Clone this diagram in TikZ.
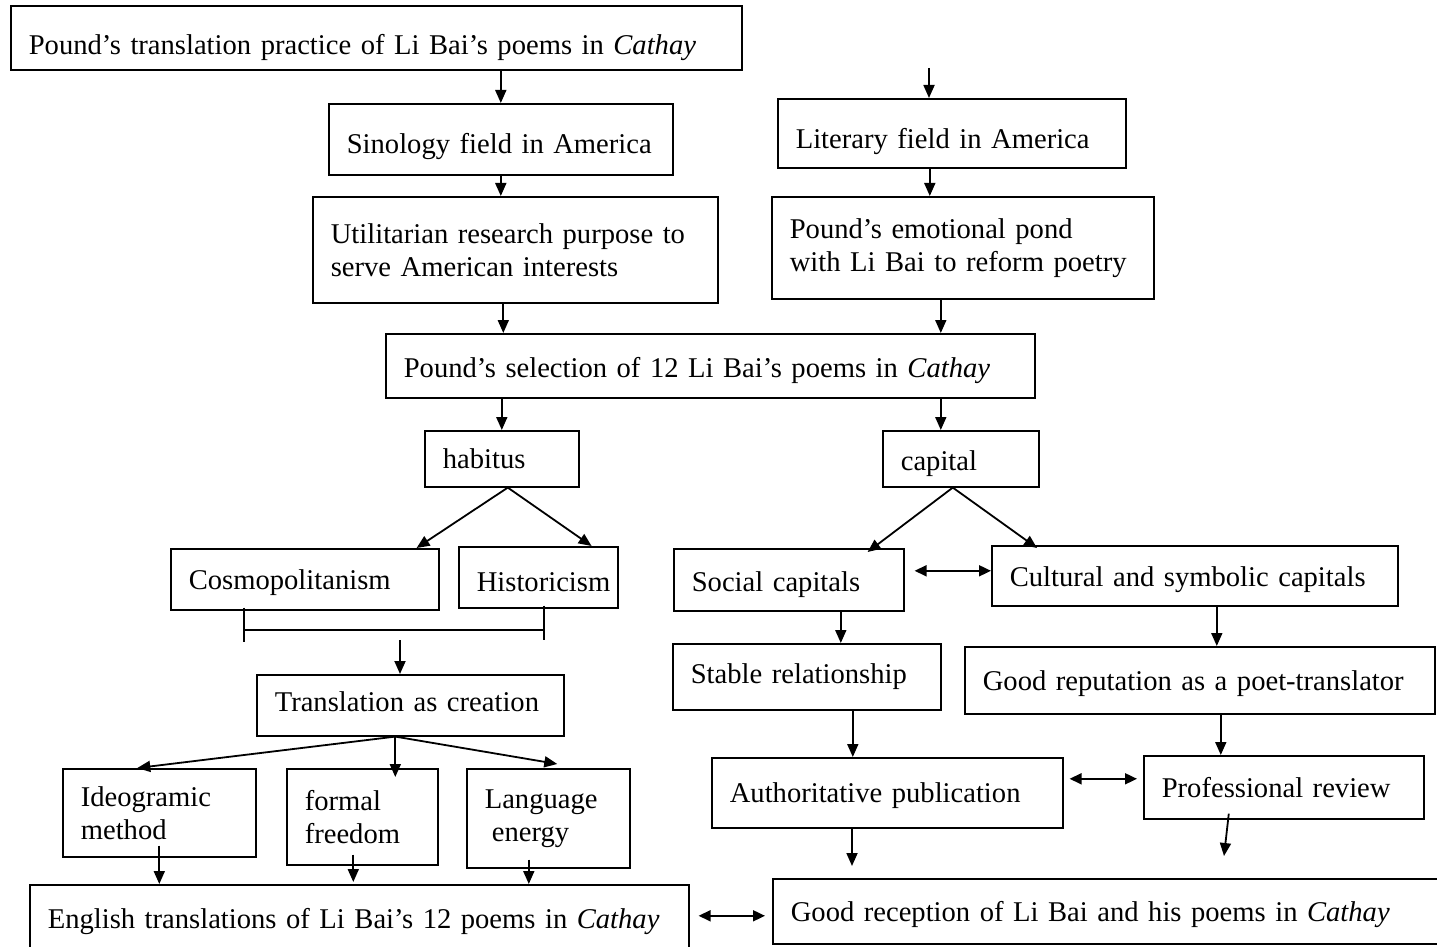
\documentclass[tikz,border=0pt]{standalone}
\usepackage{fontspec}
\setmainfont{Liberation Serif}
\usepackage{tikz}
\usetikzlibrary{positioning}
\usetikzlibrary{arrows.meta}
\usetikzlibrary{calc}

\begin{document}
\begin{tikzpicture}[x=0.5pt,y=-0.5pt,
  dn/.style={text depth=3.2pt, text height=#1},
  up/.style={text height=9.8pt, text depth=#1}]
\tikzstyle{box}=[draw, line width=0.8pt, anchor=north west, align=left, inner xsep=9pt, inner ysep=0pt, font=\fontsize{14.3}{16.5}\selectfont]
\tikzstyle{arr}=[line width=0.9pt, -{Triangle[length=6.5pt,width=5.5pt]}]
\tikzstyle{darr}=[line width=0.9pt, {Triangle[length=6pt,width=5.5pt]}-{Triangle[length=6pt,width=5.5pt]}]
\useasboundingbox (0,0) rectangle (1437,947);

% fields
\node[box, dn=19.8pt, text width=347.5pt, minimum height=32pt] (top) at (10,5) {Pound’s translation practice of Li Bai’s poems in \textit{Cathay}};
\node[box, dn=17.8pt, text width=154pt, minimum height=35.5pt] (sino) at (328,103) {Sinology field in America};
\node[box, dn=18.8pt, text width=156pt, minimum height=34.5pt] (lit) at (777,98) {Literary field in America};
\node[box, text width=184.5pt, minimum height=53pt] (util) at (312,196) {Utilitarian research purpose to\\serve American interests};
\node[box, text width=173pt, minimum height=51pt] (emot) at (771,196) {Pound’s emotional pond\\with Li Bai to reform poetry};
\node[box, dn=14.8pt, text width=306.5pt, minimum height=32pt] (sel) at (385,333) {Pound’s selection of 12 Li Bai’s poems in \textit{Cathay}};

% habitus side
\node[box, text width=59pt, minimum height=28pt] (hab) at (424,430) {habitus};
\node[box, dn=13.8pt, text width=116pt, minimum height=30.5pt] (cosmo) at (170,548) {Cosmopolitanism};
\node[box, dn=17pt, text width=61.5pt, minimum height=30.5pt] (hist) at (458,546) {Historicism};
\node[box, up=3.5pt, text width=135.5pt, minimum height=30.5pt] (trans) at (256,674) {Translation as creation};
\node[box, text width=78.5pt, minimum height=44pt] (ideo) at (62,768) {Ideogramic\\method};
\node[box, text width=57.5pt, minimum height=48pt] (formal) at (286,768) {formal\\freedom};
\node[box, text width=63.5pt, minimum height=49.5pt] (lang) at (466,768) {Language\\\hspace*{3.5pt}energy};
\node[box, dn=13.8pt, text width=311.5pt, minimum height=33pt] (eng) at (29,884) {English translations of Li Bai’s 12 poems in \textit{Cathay}};

% capital side
\node[box, dn=14.8pt, text width=60pt, minimum height=28pt] (cap) at (882,430) {capital};
\node[box, dn=14.8pt, text width=97pt, minimum height=31pt] (social) at (673,548) {Social capitals};
\node[box, dn=13.8pt, text width=185pt, minimum height=30pt] (cult) at (991,545) {Cultural and symbolic capitals};
\node[box, text width=116pt, minimum height=33pt] (stable) at (672,643) {Stable relationship};
\node[box, dn=13.8pt, text width=217pt, minimum height=33.5pt] (rep) at (964,646) {Good reputation as a poet-translator};
\node[box, dn=12.8pt, text width=157.5pt, minimum height=35pt] (auth) at (711,757) {Authoritative publication};
\node[box, text width=122pt, minimum height=31.5pt] (prof) at (1143,755) {Professional review};
\node[box, dn=13.8pt, text width=314.5pt, minimum height=32.5pt] (recep) at (772,878) {Good reception of Li Bai and his poems in \textit{Cathay}};

% arrows down the middle
\draw[arr] (top.south -| sino.north) -- (sino.north);
\coordinate (litin) at (929,68);
\draw[arr] (litin) -- (litin |- lit.north);
\draw[arr] (sino.south) -- (sino.south |- util.north);
\draw[arr] ($(lit.south)+(-22,0)$) coordinate (l1) -- (l1 |- emot.north);
\draw[arr] ($(util.south)+(-12,0)$) coordinate (u1) -- (u1 |- sel.north);
\draw[arr] ($(emot.south)+(-22,0)$) coordinate (e1) -- (e1 |- sel.north);
\draw[arr] (sel.south -| hab.north) -- (hab.north);
\draw[arr] ($(cap.north)+(-20,0)$) coordinate (c1) ++(0,-33) -- (c1);

% habitus branch
\draw[arr] ($(hab.south)+(6,0)$) coordinate (h1) -- ($(cosmo.north east)+(-23,0)$);
\draw[arr] (h1) -- ($(hist.north east)+(-27,0)$);
\draw[line width=0.9pt] ($(cosmo.south west)+(74,-3)$) coordinate (bl) -- ++(0,34);
\draw[line width=0.9pt] ($(hist.south west)+(86,-3)$) coordinate (br) -- ++(0,34);
\draw[line width=0.9pt] (bl) ++(0,22) coordinate (blm) -- (blm -| br);
\coordinate (tin) at (400,640);
\draw[arr] (tin) -- (tin |- trans.north);
\draw[arr] ($(trans.south)+(-15,0)$) coordinate (ts) -- ($(ideo.north)+(-22,0)$);
\draw[arr] (ts) -- ($(ts |- formal.north)+(0,9)$);
\draw[arr] (ts) -- ($(lang.north)+(9,-4)$);
\draw[arr] ($(ideo.south)+(0,-12)$) coordinate (i1) -- (i1 |- eng.north);
\draw[arr] ($(formal.south)+(-9,-11)$) coordinate (f1) -- ($(f1 |- eng.north)+(0,-2)$);
\draw[arr] ($(lang.south)+(-19.5,-9)$) coordinate (g1) -- (g1 |- eng.north);

% capital branch
\draw[arr] ($(cap.south)+(-8,0)$) coordinate (k1) -- ($(social.north east)+(-37,4)$);
\draw[arr] (k1) -- ($(cult.north west)+(46,3)$);
\draw[darr] ($(social.east)+(10,-9)$) coordinate (s1) -- (s1 -| cult.west);
\draw[arr] ($(social.south)+(52,0)$) coordinate (s2) -- (s2 |- stable.north);
\draw[arr] ($(cult.south)+(22,0)$) coordinate (s3) -- (s3 |- rep.north);
\draw[arr] ($(stable.south)+(46,0)$) coordinate (s4) -- (s4 |- auth.north);
\draw[arr] ($(rep.south)+(21,0)$) coordinate (s5) -- (s5 |- prof.north);
\draw[darr] ($(auth.east)+(6,-14)$) coordinate (a1) -- ($(a1 -| prof.west)+(-6,0)$);
\coordinate (aout) at (852,866);
\draw[arr] (auth.south -| aout) -- (aout);
\coordinate (pout) at (1224,856);
\draw[arr] ($(prof.south)+(-55,-6)$) -- (pout);

% bottom link
\draw[darr] ($(eng.east)+(9,-2)$) coordinate (b1) -- ($(b1 -| recep.west)+(-7,0)$);
\end{tikzpicture}
\end{document}
